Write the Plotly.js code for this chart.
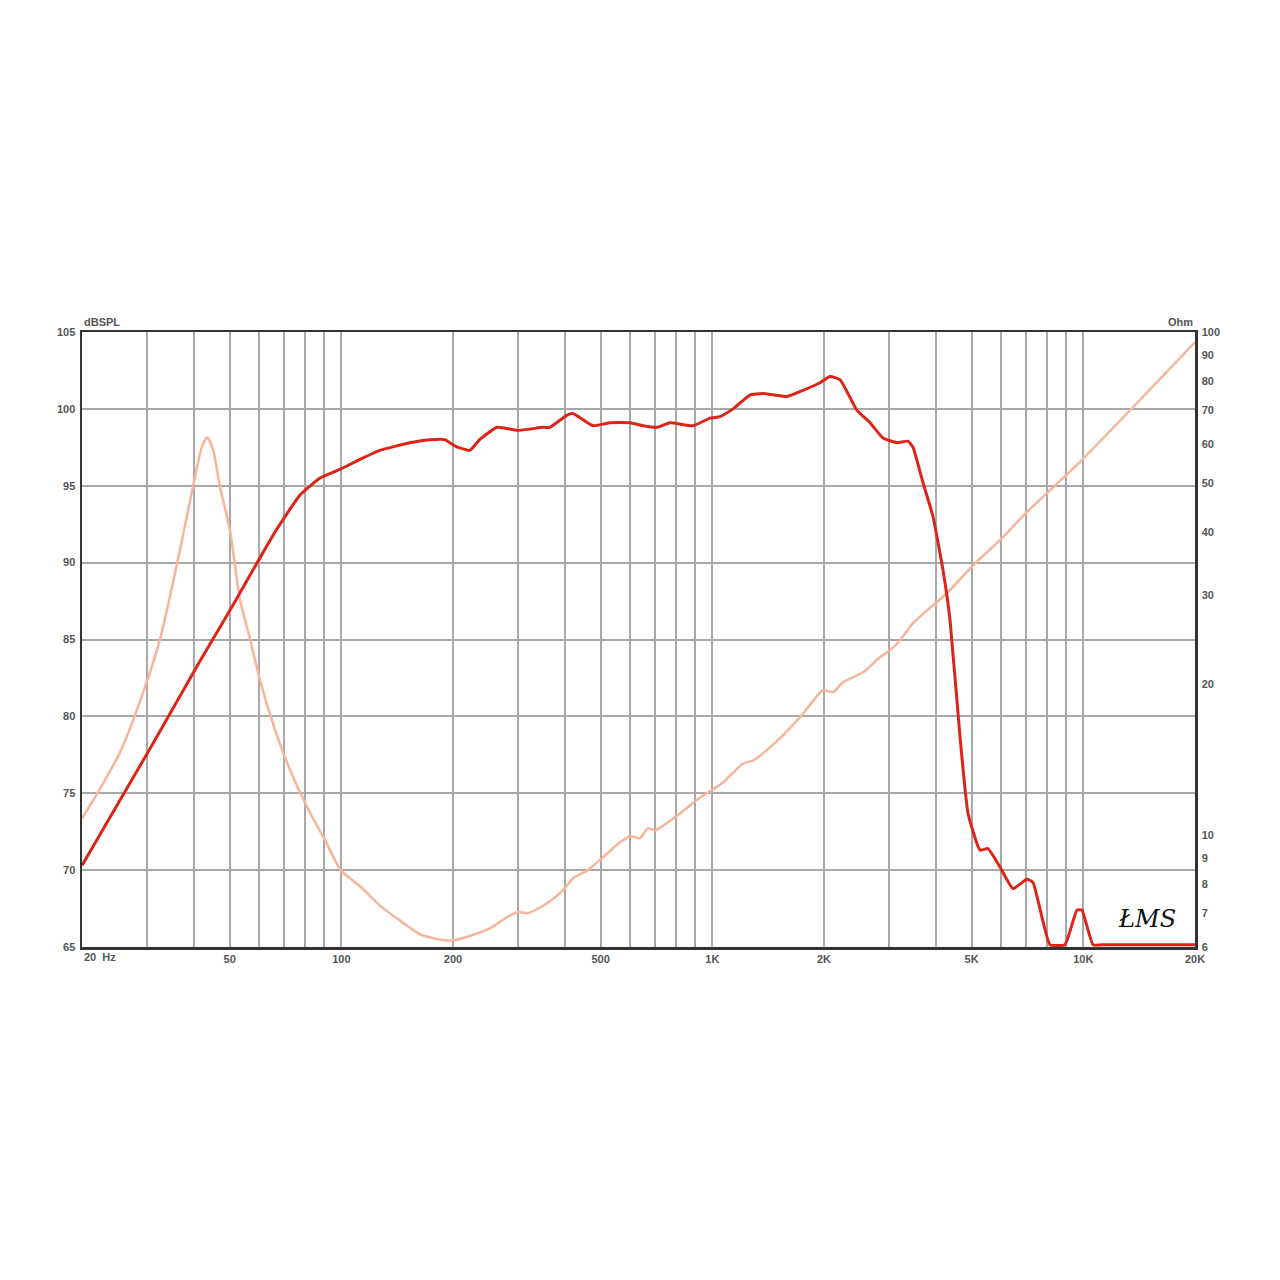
<!DOCTYPE html>
<html>
<head>
<meta charset="utf-8">
<script src="https://cdn.plot.ly/plotly-3.0.1.min.js"></script>
<style>html,body{margin:0;padding:0;background:#fff;}#chart{width:1280px;height:1280px;}</style>
</head>
<body>
<div id="chart"></div>
<script>
// SPL response (dB SPL, left axis)
const splFreq = [20, 30.5, 41.6, 50.1, 66.3, 77.4, 87.6, 99.8, 112, 127, 153, 173, 190, 202, 222, 236, 263, 298, 350, 365, 406, 421, 477, 530, 600, 651, 710, 769, 887, 986, 1049, 1137, 1263, 1369, 1589, 1755, 1951, 2076, 2209, 2455, 2661, 2885, 3147, 3368, 3475, 3697, 3934, 4186, 4371, 4651, 4888, 5267, 5534, 5963, 6463, 7051, 7318, 8131, 8923, 9612, 9915, 10621, 11500, 14000, 17000, 20000];
const splDb   = [70.3, 77.9, 83.6, 86.9, 92.0, 94.4, 95.5, 96.1, 96.7, 97.3, 97.8, 98.0, 98.0, 97.6, 97.3, 98.0, 98.8, 98.6, 98.8, 98.8, 99.6, 99.7, 98.9, 99.1, 99.1, 98.9, 98.8, 99.1, 98.9, 99.4, 99.5, 100.0, 100.9, 101.0, 100.8, 101.2, 101.7, 102.1, 101.9, 99.9, 99.1, 98.1, 97.8, 97.9, 97.5, 95.2, 93.0, 89.5, 86.3, 78.7, 73.7, 71.3, 71.4, 70.2, 68.8, 69.4, 69.2, 65.15, 65.15, 67.4, 67.4, 65.15, 65.15, 65.15, 65.15, 65.15];

// Impedance (Ohm, right axis)
const impFreq = [20, 22.4, 25.3, 28.7, 32.5, 36.1, 39.8, 42.1, 43.5, 45.1, 47.1, 50.1, 53.3, 56.7, 60.4, 66.3, 72.7, 82.3, 90.4, 99.8, 112, 127, 144, 163, 185, 200, 226, 252, 280, 300, 319, 359, 396, 421, 460, 504, 564, 600, 638, 671, 701, 803, 927, 1069, 1210, 1287, 1430, 1723, 1988, 2114, 2250, 2548, 2830, 3011, 3205, 3475, 4292, 5042, 5963, 7051, 9795, 20000];
const impOhm  = [10.8, 12.4, 14.6, 18.5, 24.6, 34.7, 49.2, 59.2, 61.7, 58.4, 49.2, 40.4, 29.4, 24.6, 20.3, 16.2, 13.5, 11.1, 9.78, 8.51, 7.94, 7.25, 6.77, 6.36, 6.2, 6.19, 6.34, 6.54, 6.88, 7.04, 7.01, 7.33, 7.78, 8.22, 8.51, 9.01, 9.69, 9.96, 9.87, 10.33, 10.24, 10.94, 11.89, 12.74, 13.89, 14.08, 14.95, 17.16, 19.42, 19.24, 20.14, 21.08, 22.58, 23.32, 24.41, 26.4, 30.3, 34.4, 38.6, 43.9, 55.2, 95.4];

const xTickVals = [20,30,40,50,60,70,80,90,100,200,300,400,500,600,700,800,900,1000,2000,3000,4000,5000,6000,7000,8000,9000,10000,20000];
const xTickText = ['','','','50','','','','','100','200','','','500','','','','','1K','2K','','','5K','','','','','10K','20K'];
const dbTicks = [65,70,75,80,85,90,95,100,105];
const ohmTicks = [6,7,8,9,10,20,30,40,50,60,70,80,90,100];

const tickFont = {family: 'Liberation Sans, Arial, sans-serif', size: 11, color: '#555', weight: 'bold'};

const traces = [
  {x: impFreq, y: impOhm, xaxis: 'x', yaxis: 'y', type: 'scatter', mode: 'lines',
   line: {color: '#f5b59b', width: 2.5, shape: 'spline', smoothing: 0.6}, hoverinfo: 'skip'},
  {x: splFreq, y: splDb, xaxis: 'x', yaxis: 'y2', type: 'scatter', mode: 'lines',
   line: {color: '#dd2418', width: 3, shape: 'spline', smoothing: 0.4}, hoverinfo: 'skip'}
];

const layout = {
  width: 1280, height: 1280,
  paper_bgcolor: '#fff', plot_bgcolor: '#fff',
  margin: {l: 82, r: 85, t: 332, b: 333},
  showlegend: false,
  xaxis: {type: 'log', range: [Math.log10(20), Math.log10(20000)],
    tickmode: 'array', tickvals: xTickVals, ticktext: xTickText,
    showgrid: true, gridcolor: '#a8a8a8', gridwidth: 2,
    showline: true, mirror: true, linecolor: '#333', linewidth: 2.5,
    ticks: '', tickfont: tickFont, zeroline: false},
  yaxis: {type: 'log', side: 'right', range: [Math.log10(6), Math.log10(100)],
    tickmode: 'array', tickvals: ohmTicks, ticktext: ohmTicks.map(String),
    showgrid: false, showline: true, linecolor: '#333', linewidth: 2.5,
    ticks: '', tickfont: tickFont, zeroline: false, ticklabelstandoff: 2},
  yaxis2: {overlaying: 'y', side: 'left', range: [65, 105],
    tickmode: 'array', tickvals: dbTicks,
    showgrid: true, gridcolor: '#a8a8a8', gridwidth: 2,
    showline: true, linecolor: '#333', linewidth: 2.5,
    ticks: '', tickfont: tickFont, zeroline: false, ticklabelstandoff: 2},
  annotations: [
    {text: 'dBSPL', xref: 'paper', yref: 'paper', x: 0, y: 1, xanchor: 'left', yanchor: 'bottom', yshift: 2, showarrow: false, font: tickFont},
    {text: 'Ohm', xref: 'paper', yref: 'paper', x: 1, y: 1, xanchor: 'right', yanchor: 'bottom', yshift: 2, showarrow: false, font: tickFont},
    {text: '20  Hz', xref: 'paper', yref: 'paper', x: 0, y: 0, xanchor: 'left', yanchor: 'top', yshift: -2, showarrow: false, font: tickFont},
    {text: 'ŁMS', xref: 'paper', yref: 'paper', x: 0.985, y: 0.02, xanchor: 'right', yanchor: 'bottom', showarrow: false,
     font: {family: 'DejaVu Serif, serif', size: 24, color: '#111', style: 'italic'}}
  ]
};

Plotly.newPlot('chart', traces, layout, {staticPlot: true});
</script>
</body>
</html>
